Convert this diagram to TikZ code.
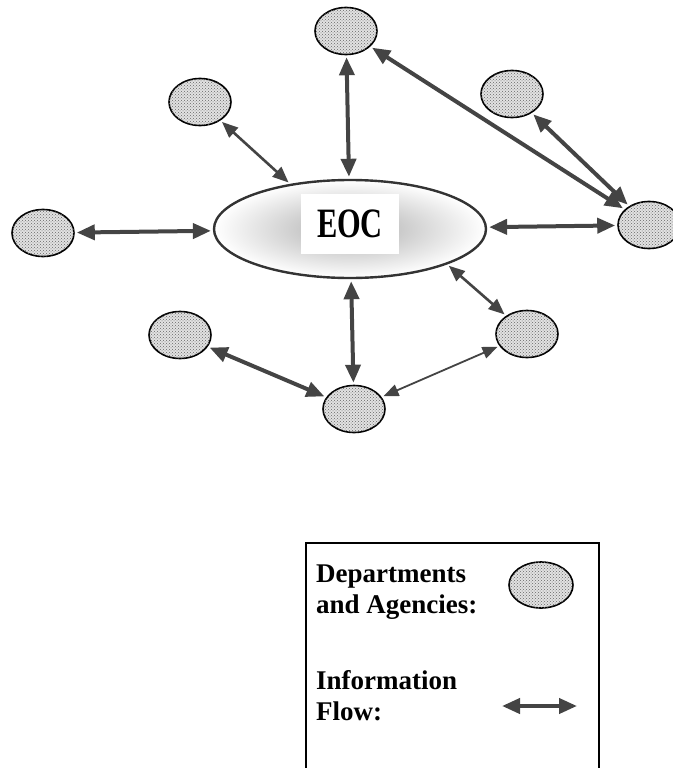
\documentclass[tikz,border=0pt]{standalone}
\usepackage{fontspec}
\setmainfont{Liberation Serif}
\usetikzlibrary{shapes.geometric,arrows.meta,patterns}
\definecolor{flow}{HTML}{444444}
\definecolor{rim}{HTML}{333333}
\definecolor{dept}{HTML}{E2E2E2}

\begin{document}
\begin{tikzpicture}[x=1pt, y=-1pt,
  agency/.style={ellipse, draw, line width=1.6pt, inner sep=0pt,
    minimum width=62pt, minimum height=47pt, fill=dept,
    postaction={pattern=crosshatch dots, pattern color=gray!80!black}},
  hub/.style={ellipse, draw=rim, line width=2.4pt, inner sep=0pt,
    minimum width=272pt, minimum height=98pt,
    shading=radial, inner color=gray!65, outer color=white},
  wthick/.style={flow, line width=4pt, shorten <=2pt, shorten >=2pt,
    {Triangle[length=18pt,width=15pt]}-{Triangle[length=18pt,width=15pt]}},
  wthin/.style={flow, line width=2.6pt, shorten <=2pt, shorten >=2pt,
    {Triangle[length=16pt,width=13pt]}-{Triangle[length=16pt,width=13pt]}},
  wthinner/.style={flow, line width=1.8pt, shorten <=2pt, shorten >=2pt,
    {Triangle[length=15pt,width=12pt]}-{Triangle[length=15pt,width=12pt]}},
  legtext/.style={font=\fontsize{27}{31}\selectfont\bfseries, inner sep=0pt, anchor=base west},
]
\useasboundingbox (0,0) rectangle (672,768);

% ---------- EOC (centre) ----------
\node[hub] (eoc) at (350,229) {};
\node[fill=white, minimum width=98pt, minimum height=60pt, inner sep=0pt] (eoclbl) at (350,224)
  {\fontsize{38}{38}\selectfont\bfseries\scalebox{0.8}[1.1]{EOC}};

% ---------- departments and agencies ----------
\node[agency] (top) at (346,31) {};
\node[agency] (tl)  at (200,102) {};
\node[agency] (tr)  at (512,94) {};
\node[agency] (lft) at (43,233) {};
\node[agency] (rgt) at (649,225) {};
\node[agency] (bl)  at (180,335) {};
\node[agency] (br)  at (527,334) {};
\node[agency] (bot) at (354,409) {};

% ---------- information flow ----------
\draw[wthick]   (lft) -- (eoc);
\draw[wthin]    (tl) -- (eoc.143);
\draw[wthick]   (top) -- (eoc);
\draw[wthick]   (top) -- (rgt);
\draw[wthick]   (tr) -- (rgt);
\draw[wthick]   (eoc) -- (rgt);
\draw[wthin]    (eoc.-20) -- (br);
\draw[wthick]   (eoc) -- (bot);
\draw[wthick]   (bl) -- (bot);
\draw[wthinner] (br) -- (bot);

% ---------- legend ----------
\draw[line width=2.4pt] (306,768) -- (306,543) -- (599,543) -- (599,768);
\node[legtext] (deptA) at (316,582) {Departments};
\node[legtext] (deptB) at (316,613) {and Agencies:};
\node[agency, minimum width=64pt, minimum height=46pt] (legdept) at (541,585) {};
\node[legtext] (infoA) at (316,689) {Information};
\node[legtext] (infoB) at (316,720) {Flow:};
\coordinate (legL) at (502,706);
\coordinate (legR) at (577,706);
\draw[wthick, shorten <=0pt, shorten >=0pt] (legL) -- (legR);

\end{tikzpicture}
\end{document}
